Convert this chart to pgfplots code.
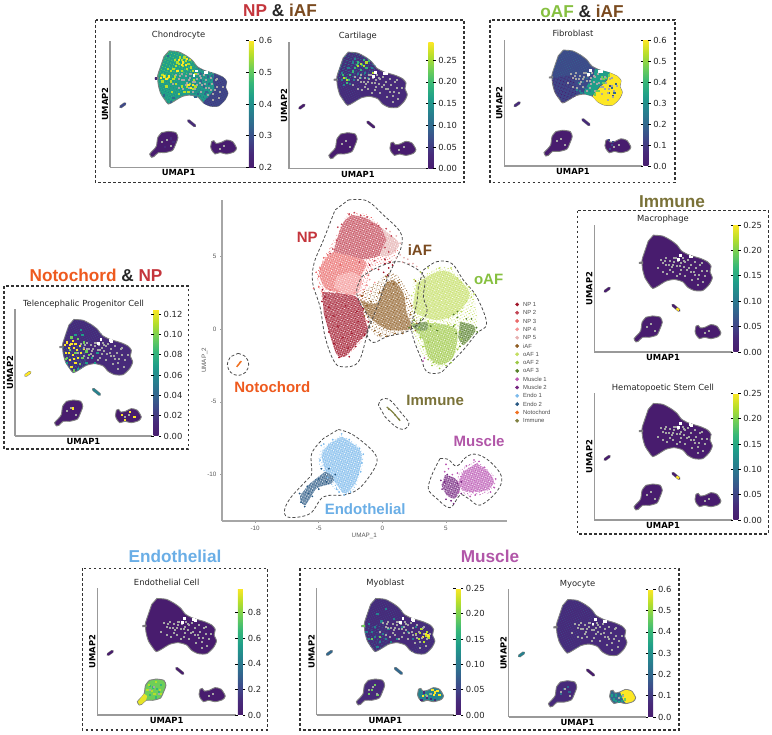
\documentclass[border=0pt]{standalone}
\usepackage{pgfplots}
\pgfplotsset{compat=1.18}
\usepackage{pgfplotstable}
\usepackage{fontspec}
\usetikzlibrary{patterns.meta}
\setmainfont{DejaVu Sans}
\newfontfamily\arial{Liberation Sans}
\definecolor{v0}{HTML}{481C6E}
\definecolor{v1}{HTML}{472A7A}
\definecolor{v2}{HTML}{3E4989}
\definecolor{v3}{HTML}{31688E}
\definecolor{v4}{HTML}{26828E}
\definecolor{v5}{HTML}{1F9E89}
\definecolor{v6}{HTML}{35B779}
\definecolor{v7}{HTML}{6ECE58}
\definecolor{v8}{HTML}{B5DE2B}
\definecolor{v9}{HTML}{FDE725}
\definecolor{tNP}{HTML}{C4353C}
\definecolor{tiAF}{HTML}{7A4A1F}
\definecolor{toAF}{HTML}{86C040}
\definecolor{tNo}{HTML}{EE5A1E}
\definecolor{tIm}{HTML}{7A7238}
\definecolor{tEn}{HTML}{6AAEE6}
\definecolor{tMu}{HTML}{B156A8}
\definecolor{cN1}{HTML}{A01428}
\definecolor{cN2}{HTML}{C24454}
\definecolor{cN3}{HTML}{EA6A6A}
\definecolor{cN4}{HTML}{F49494}
\definecolor{cN5}{HTML}{E6B0B0}
\definecolor{ciA}{HTML}{8E5C22}
\definecolor{cO1}{HTML}{C4DE62}
\definecolor{cO2}{HTML}{9CC844}
\definecolor{cO3}{HTML}{557F28}
\definecolor{cM1}{HTML}{BC58B4}
\definecolor{cM2}{HTML}{74247F}
\definecolor{cE1}{HTML}{7CBAEC}
\definecolor{cE2}{HTML}{285883}
\definecolor{cNo}{HTML}{F07020}
\definecolor{cIm}{HTML}{7F8040}
\pgfplotsset{colormap={vir}{rgb255=(72,28,110) rgb255=(71,42,122) rgb255=(62,73,137) rgb255=(49,104,142) rgb255=(38,130,142) rgb255=(31,158,137) rgb255=(53,183,121) rgb255=(110,206,88) rgb255=(181,222,43) rgb255=(253,231,37)}}
\pgfplotstableread{
x y
43 92
49.8 91.3
55.8 87.9
60.2 84.2
63.6 79.5
69.2 76.3
77.2 73.7
82.5 71
85 67.6
84.2 63.2
85.9 58.4
83.7 53.2
78.9 48.4
72.8 48.4
68 51
64.3 55.3
58.3 57.1
52.2 55.8
46.1 51.8
42.5 50
40 53.2
36.9 58.4
35.2 65
34.7 72.1
36.4 78.2
39.3 87.4
}\mainT
\pgfplotstableread{
x y
42.5 28.4
48 27.4
49.5 23.4
48 18.7
45.6 13.4
40 11.6
35.2 11.6
32 8.4
30.3 7.9
28.9 10.5
31.6 13.7
33.8 16.8
34.8 23.5
37.6 27.4
}\endoT
\pgfplotstableread{
x y
74 20.3
75.7 21
77.2 18.9
80.6 19.5
85 21.6
89.3 20.3
92.2 15
90.3 12.1
85 10.5
80.1 11.6
76.5 10.5
74 13.7
73.3 16.3
}\muscT
\pgfplotstableread{
x y
43 92
49.8 91.3
55.8 87.9
60.2 84.2
63.6 79.5
58 74
50 72
42 71
35 70
36.4 78.2
39.3 87.4
}\topT
\pgfplotstableread{
x y
35 70
42 71
50 72
52 64
52.2 55.8
46.1 51.8
42.5 50
40 53.2
36.9 58.4
35.2 65
}\leftT
\pgfplotstableread{
x y
60.2 84.2
63.6 79.5
69.2 76.3
77 74
76 62
72 56
68 51
64.3 55.3
58.3 57.1
56 66
57 76
}\midT
\pgfplotstableread{
x y
76 74
82.5 71
85 67.6
84.2 63.2
85.9 58.4
83.7 53.2
78.9 48.4
72.8 48.4
68 51
72 56
76 62
75 68
}\rightT
\newcommand\umap[5]{%
\addplot[forget plot,draw=gray,line width=.9pt,fill=#1,smooth,tension=.4] table[x=x,y=y] {\mainT} -- cycle;
\addplot[forget plot,draw=gray,line width=.9pt,fill=#2,smooth,tension=.4] table[x=x,y=y] {\endoT} -- cycle;
\addplot[forget plot,draw=gray,line width=.9pt,fill=#3,smooth,tension=.4] table[x=x,y=y] {\muscT} -- cycle;
\addplot[forget plot,draw=gray,line width=.9pt,fill=#1] coordinates {(32.8,70.6)(35.2,71)(35.2,69.8)(32.8,69.8)} -- cycle;
\addplot[forget plot,gray,line width=3.2pt,line cap=round] coordinates {(7.8,47.8)(10.9,50.2)};
\addplot[forget plot,#4,line width=2.2pt,line cap=round] coordinates {(7.8,47.8)(10.9,50.2)};
\addplot[forget plot,gray,line width=3.2pt,line cap=round] coordinates {(57.2,36.8)(61.7,32.8)};
\addplot[forget plot,#5,line width=2.2pt,line cap=round] coordinates {(57.2,36.8)(61.7,32.8)};
}
\newcommand\region[2]{\addplot[forget plot,draw=none,fill=#1,smooth,tension=.4] table[x=x,y=y] {#2} -- cycle;}
\newcommand\texture[2]{\addplot[forget plot,draw=none,pattern={Dots[distance=2.1pt,radius=.5pt,angle=23]},pattern color=#1,smooth,tension=.4] table[x=x,y=y] {#2} -- cycle;}
\newcommand\textureB[2]{\addplot[forget plot,draw=none,pattern={Dots[distance=3.1pt,radius=.6pt,angle=67]},pattern color=#1,smooth,tension=.4] table[x=x,y=y] {#2} -- cycle;}
\newcommand\spots[2]{\addplot[forget plot,only marks,mark=square*,mark size=.6pt,color=#1] coordinates {#2};}
\newcommand\flecks{%
\addplot[forget plot,only marks,mark=square*,mark size=.5pt,color=gray!70] coordinates {(48,73)(50,70)(52,74)(54,69)(55,72)(56,67)(58,71)(59,74)(60,68)(61,72)(63,70)(64,74)(65,67)(66,71)(68,73)(67,65)(70,69)(72,63)(74,66)(76,61)(78,64)(80,60)(75,58)(71,57)(62,62)(57,63)(53,62)(60,60)(66,60)(77,69)(82,64)(46,66)(50,63)(73,71)(78,70)(41,22)(44,17)(38,20)(83,17)(80,15)(51,72)(57,69)(62,68)(65,72)(69,66)(73,61)(79,55)(75,53)(70,63)(55,65)(52,69)(58,74)(63,65)};
\addplot[forget plot,only marks,mark=square*,mark size=.9pt,color=white] coordinates {(62.6,76.3)(69.4,75.3)(70.4,75.1)(61,73)};
}
\pgfplotsset{
 panel/.style={scale only axis,axis lines=left,axis line style={-,draw=gray!80,line width=1.3pt},xmin=0,xmax=100,ymin=0,ymax=100,xtick=\empty,ytick=\empty,clip=false,
  anchor=south west,colorbar,colormap name=vir,colorbar shift/.style={xshift=1pt},
  xlabel={\fontsize{8.4}{10}\selectfont\bfseries UMAP1},ylabel={\fontsize{8.4}{10}\selectfont\bfseries UMAP2},
  xlabel style={at={(axis description cs:0.5,0)},anchor=center,yshift=-5.5pt},
  ylabel style={at={(axis description cs:0,0.5)},anchor=center,yshift=5pt},
  title style={font=\fontsize{8.4}{10}\selectfont,at={(axis description cs:0.5,1)},anchor=base,yshift=-3pt,color=black!85},
  every colorbar/.append style={width=5pt,ytick align=outside,major tick length=2.5pt,axis line style={draw=none},
   ytick style={draw=black,line width=.6pt},yticklabel style={font=\fontsize{8.4}{10}\selectfont,xshift=-1pt,color=black!85,/pgf/number format/assume math mode=true}},
 },
}
\tikzset{frame/.style={draw=black!80,line width=1.4pt,dash pattern=on 2.6pt off 2.4pt}}
\newcommand\head[3]{\node[font=\arial\fontsize{17.2}{20}\selectfont\bfseries,anchor=center] at (#1pt,-#2pt) {#3};}
\begin{document}
\begin{tikzpicture}[x=1pt,y=1pt]
\path[use as bounding box] (0,0) rectangle (772pt,-735pt);
% frames
\draw[frame] (95.7pt,-20pt) rectangle (464pt,-182.7pt);
\draw[frame] (490pt,-20pt) rectangle (675pt,-182.5pt);
\draw[frame] (4pt,-286pt) rectangle (188.3pt,-449pt);
\draw[frame] (577.7pt,-210.7pt) rectangle (768.3pt,-534pt);
\draw[frame] (82.3pt,-568.3pt) rectangle (267.5pt,-730pt);
\draw[frame] (300pt,-568.3pt) rectangle (679pt,-730pt);
\head{280}{10.5}{\textcolor{tNP}{NP} \textcolor{black!85}{\&} \textcolor{tiAF}{iAF}}
\head{582}{11}{\textcolor{toAF}{oAF} \textcolor{black!85}{\&} \textcolor{tiAF}{iAF}}
\head{96}{275}{\textcolor{tNo}{Notochord} \textcolor{black!85}{\&} \textcolor{tNP}{NP}}
\head{672}{201.5}{\textcolor{tIm}{Immune}}
\head{175}{556}{\textcolor{tEn}{Endothelial}}
\head{490}{556}{\textcolor{tMu}{Muscle}}
% Chondrocyte
\begin{axis}[panel,at={(110pt,-167.3pt)},width=137.3pt,height=126.6pt,title={Chondrocyte},point meta min=0.2,point meta max=0.6,
 colorbar style={ytick={0.2,0.3,0.4,0.5,0.6},yticklabels={0.2,0.3,0.4,0.5,0.6}}]
\umap{v5}{v0}{v0}{v2}{v1}
\texture{v4}{\midT}\textureB{v3}{\midT}
\region{v2}{\rightT}
\texture{v1}{\rightT}
\texture{v6}{\topT}\textureB{v7}{\topT}\texture{v6}{\leftT}\textureB{v4}{\leftT}
\spots{v8}{(50,82)(52,85)(55,84)(57,82)(53,80)(48,80)(46,78)(56,78)(59,79)(44,76)(40,72)(42,71)(38,73)(44,68)(56,64)(58,66)(60,62)(54,60)(50,58)(47,72)(62,74)(45,60)(51,87)(54,87)(58,85)(49,83)(47,85)(60,76)(52,76)(42,78)(38,68)(48,66)(52,64)(57,60)(62,64)(46,70)(41,64)(61,69)}
\spots{v9}{(53,83)(50,85)(55,81)(39,72)(41,70)(57,65)(59,63)(49,76)(56,86)(52,81)(43,72)(37,71)(60,65)}
\spots{v3}{(66,68)(68,64)(70,60)(64,58)(72,66)(69,58)(74,72)(42,88)(46,55)(66,74)(71,72)(62,56)(44,52)(39,57)}
\spots{v1}{(33.5,70.3)(44,23)(40,16)(46,20)}
\flecks
\end{axis}
% Cartilage
\begin{axis}[panel,at={(289pt,-168.7pt)},width=137.7pt,height=126.7pt,title={Cartilage},point meta min=0,point meta max=0.292,
 colorbar style={ytick={0,0.05,0.1,0.15,0.2,0.25},yticklabels={0.00,0.05,0.10,0.15,0.20,0.25}}]
\umap{v1}{v0}{v0}{v0}{v0}
\texture{v3}{\topT}\textureB{v4}{\topT}
\texture{v2}{\leftT}
\spots{v6}{(50,84)(53,82)(56,80)(48,80)(46,77)(41,72)(43,70)(39,74)(58,85)(52,78)(44,74)(54,86)(49,82)(42,68)}
\spots{v8}{(52,83)(54,81)(56,84)(42,70)(40,72)(61,76)(50,81)}
\spots{v4}{(46,84)(48,87)(55,76)(50,75)(38,76)(44,67)(40,66)(60,80)(47,70)(43,80)(38,70)(52,72)(57,72)}
\flecks
\end{axis}
% Fibroblast
\begin{axis}[panel,at={(504.3pt,-166pt)},width=137.3pt,height=126pt,title={Fibroblast},point meta min=0,point meta max=0.6,
 colorbar style={ytick={0,0.1,0.2,0.3,0.4,0.5,0.6},yticklabels={0.0,0.1,0.2,0.3,0.4,0.5,0.6}}]
\umap{v2}{v0}{v0}{v1}{v1}
\texture{v1}{\leftT}\textureB{v0}{\leftT}
\texture{v3}{\topT}
\addplot[forget plot,draw=none,fill=v5,smooth,tension=.4] coordinates {(66,77)(76.9,74)(75,69)(69.2,63)(64,56)(58,58)(61,65)(65,71)} -- cycle;
\addplot[forget plot,draw=none,fill=v9,smooth,tension=.3] coordinates {(76.9,74)(82.5,71)(85,67.6)(84.2,63)(85.9,58.4)(83.5,53)(79,48.4)(72.8,48.4)(68,51)(64.5,55.5)(69.2,62)(75,68)} -- cycle;
\spots{v7}{(72,66)(70,63)(74,70)(66,57)(69,60)(76,72)(72,69)(67,60)(71,71)}
\spots{v3}{(78,62)(80,58)(76,58)(81,65)(60,62)(62,66)(58,62)(57,67)(60,70)}
\spots{v2}{(77,64)(79,56)}
\spots{v4}{(55,60)(58,70)(62,60)(54,66)(50,70)(60,74)(56,58)(53,61)(62,73)}
\spots{v2}{(76,21)(78,17)(77,14)(79,19)}
\flecks
\end{axis}
% Telencephalic
\begin{axis}[panel,at={(15pt,-436pt)},width=137pt,height=126.7pt,title={Telencephalic Progenitor Cell},point meta min=0,point meta max=0.1248,
 colorbar style={ytick={0,0.02,0.04,0.06,0.08,0.1,0.12},yticklabels={0.00,0.02,0.04,0.06,0.08,0.10,0.12}}]
\umap{v1}{v0}{v0}{v9}{v4}
\texture{v3}{\leftT}\textureB{v4}{\leftT}
\texture{v2}{\topT}
\spots{v9}{(38,74)(40,72)(42,75)(44,73)(39,70)(43,70)(47,71)(50,69)(48,66)(42,64)(40,60)(41,55)(44,58)(37,66)(46,62)(36,72)(41,73)(45,68)(39,66)(43,61)}
\spots{v7}{(41,78)(46,77)(38,62)(44,66)(50,74)(52,67)(47,57)(43,52)(54,64)(40,68)(37,61)(49,62)}
\spots{v5}{(49,80)(55,72)(56,62)(48,84)(38,58)(52,58)(60,66)(44,80)(58,58)(46,53)}
\spots{v9}{(78,17)(84,19)(80,13)(87,15)(42,22)}
\flecks
\end{axis}
% Macrophage
\begin{axis}[panel,at={(594.3pt,-352pt)},width=137.4pt,height=127pt,title={Macrophage},point meta min=0,point meta max=0.25,
 colorbar style={ytick={0,0.05,0.1,0.15,0.2,0.25},yticklabels={0.00,0.05,0.10,0.15,0.20,0.25}}]
\umap{v0}{v0}{v0}{v0}{v0}
\addplot[forget plot,v9,line width=2.2pt] coordinates {(59.8,34.4)(61.7,32.8)};
\flecks
\end{axis}
% Hematopoetic
\begin{axis}[panel,at={(594.3pt,-520pt)},width=137.4pt,height=126.7pt,title={Hematopoetic Stem Cell},point meta min=0,point meta max=0.25,
 colorbar style={ytick={0,0.05,0.1,0.15,0.2,0.25},yticklabels={0.00,0.05,0.10,0.15,0.20,0.25}}]
\umap{v0}{v0}{v0}{v0}{v0}
\addplot[forget plot,v9,line width=2.2pt] coordinates {(59.8,34.4)(61.7,32.8)};
\flecks
\end{axis}
% Endothelial
\begin{axis}[panel,at={(97.2pt,-715pt)},width=138.9pt,height=126.7pt,title={Endothelial Cell},point meta min=0,point meta max=0.99,
 colorbar style={ytick={0,0.2,0.4,0.6,0.8},yticklabels={0.0,0.2,0.4,0.6,0.8}}]
\umap{v0}{v7}{v0}{v0}{v0}
\addplot[forget plot,draw=none,fill=v9!70!v8] coordinates {(35.2,11.8)(32,8.6)(30.3,8.2)(29.2,10.5)(31.6,13.7)(33.8,16.8)(36,15)} -- cycle;
\spots{v6}{(40,22)(44,18)(38,16)(42,14)(46,24)(38,23)(43,21)}
\spots{v8}{(42,26)(37,24)(45,20)(39,19)(41,17)(46,17)(36,20)}
\flecks
\end{axis}
% Myoblast
\begin{axis}[panel,at={(316.5pt,-715pt)},width=137.8pt,height=126.7pt,title={Myoblast},point meta min=0,point meta max=0.25,
 colorbar style={ytick={0,0.05,0.1,0.15,0.2,0.25},yticklabels={0.00,0.05,0.10,0.15,0.20,0.25}}]
\umap{v1}{v1}{v4}{v3}{v3}
\texture{v2}{\leftT}\textureB{v3}{\leftT}
\texture{v2}{\topT}
\texture{v2}{\rightT}
\spots{v4}{(40,66)(42,62)(38,60)(46,58)(48,64)(44,54)(50,60)(54,58)(36,66)(52,68)(58,60)(66,66)(72,70)(70,60)(42,70)(47,74)(38,72)(44,80)(50,84)(56,76)(62,70)}
\spots{v8}{(79,63)(80,66)(76,68)(78,58)(72,64)(74,60)(81,61)(75,65)}
\spots{v9}{(79.5,64)(80,60)(77,62)(81,63)}
\spots{v7}{(33.5,70.3)(34.5,70.2)(40,60)(46,62)}
\spots{v9}{(84,20)(87,19)(89,16)(85,16)(77,15)(86,18)(88,19)}
\spots{v1}{(80,14)(83,13)(76,12)(86,12)(78,18)}
\spots{v7}{(40,20)(42,24)(38,17)(44,16)(82,17)(79,16)}
\flecks
\end{axis}
% Myocyte
\begin{axis}[panel,at={(508.6pt,-717pt)},width=137.8pt,height=127.7pt,title={Myocyte},point meta min=0,point meta max=0.6,
 colorbar style={ytick={0,0.1,0.2,0.3,0.4,0.5,0.6},yticklabels={0.0,0.1,0.2,0.3,0.4,0.5,0.6}}]
\umap{v1}{v1}{v3}{v4}{v0}
\texture{v2}{\topT}
\texture{v2}{\leftT}
\addplot[forget plot,draw=none,fill=v9,smooth,tension=.4] coordinates {(81,19.3)(85,21.2)(89.2,20)(91.8,15)(90,12.3)(85,11)(83,14)} -- cycle;
\spots{v5}{(76,14)(78,13)(75,17)(80,12)(78,17)(81,16)(82,13)}
\spots{v7}{(84,14)(83,17)}
\spots{v3}{(40,22)(43,24)(38,18)(44,20)}
\flecks
\end{axis}
% Main UMAP
\newcommand\cluster[2]{%
\addplot[forget plot,draw=none,fill=#1!62,smooth,tension=.5] coordinates {#2} -- cycle;
\addplot[forget plot,draw=none,pattern={Dots[distance=1.9pt,radius=.5pt,angle=17]},pattern color=#1,smooth,tension=.5] coordinates {#2} -- cycle;
\addplot[forget plot,draw=none,pattern={Dots[distance=2.7pt,radius=.5pt,angle=61]},pattern color=white,smooth,tension=.5] coordinates {#2} -- cycle;}
\newcommand\haze[2]{%
\addplot[forget plot,draw=none,pattern={Dots[distance=2.6pt,radius=.5pt,angle=31]},pattern color=#1,smooth,tension=.5] coordinates {#2} -- cycle;
\addplot[forget plot,draw=none,pattern={Dots[distance=3.7pt,radius=.5pt,angle=73]},pattern color=#1,smooth,tension=.5] coordinates {#2} -- cycle;}
\newcommand\dashedregion[1]{\addplot[forget plot,black!70,line width=.8pt,dash pattern=on 3pt off 2pt,smooth,tension=.6] coordinates {#1} -- cycle;}
\newcommand\cells[3]{\addplot[only marks,mark=*,mark size=.65pt,color=#1] coordinates {#2}; \addlegendentry{#3}}
\begin{axis}[at={(222pt,-520.7pt)},anchor=south west,scale only axis,width=284.7pt,height=320.7pt,
 xmin=-12.6,xmax=9.77,ymin=-13.17,ymax=8.87,axis lines=left,clip=false,
 axis line style={-,draw=gray!70,line width=1.7pt},
 xtick={-10,-5,0,5},ytick={-10,-5,0,5},
 tick style={draw=gray!75,line width=.5pt},major tick length=2pt,tick align=outside,
 tick label style={font=\arial\fontsize{6.3}{7}\selectfont,color=black!65,/pgf/number format/assume math mode=true},
 xlabel={UMAP\_1},ylabel={UMAP\_2},
 xlabel style={font=\arial\fontsize{6.3}{7}\selectfont,color=black!65,at={(axis description cs:0.5,0)},anchor=center,yshift=-15pt},
 ylabel style={font=\arial\fontsize{6.3}{7}\selectfont,color=black!65,at={(axis description cs:0,0.5)},anchor=center,xshift=0pt,yshift=17.5pt},
 legend cell align=left,
 legend image code/.code={\draw[draw=none,fill=none,opacity=0] (0pt,0pt) -- (8pt,0pt);\draw[#1,mark size=1.7pt] plot coordinates {(2pt,0pt)};},
 legend style={at={(1.029,0.688)},anchor=north west,draw=none,fill=none,inner sep=0pt,font=\arial\fontsize{5.9}{7}\selectfont,text=black!70,
  nodes={inner sep=0pt,minimum height=8.31pt,text depth=0pt},row sep=0pt},
]
\haze{cN3}{(-2.7,8)(-1,7.8)(.5,6.5)(1.3,5.7)(.6,4.6)(-.8,4.2)(-1.3,2.4)(-1.1,-.1)(-2.9,-1.9)(-3.7,-1.5)(-4.6,1.5)(-5,3)(-5.1,4)(-4,5.8)}
\haze{ciA}{(-1.9,2.4)(-.5,3.2)(.8,3.9)(1.9,2.8)(2.7,.4)(.6,-.5)(-.6,-.4)(-1.4,1)}
\haze{cO1}{(2.4,3.2)(4.3,4.2)(5.5,4.1)(7.1,2.4)(7.4,0)(5.9,-1.5)(4.6,-2.6)(3.4,-2)(2.3,0)(2.4,1.8)}
\haze{cE1}{(-3.2,-7.3)(-1.9,-8)(-1.5,-9)(-2,-10.7)(-2.9,-11.4)(-4.2,-10.6)(-5,-9.2)(-4.8,-8.2)}
\haze{cM1}{(7.2,-9)(8.5,-9.8)(8.9,-10.6)(8.3,-11.3)(6.6,-11.4)(5.8,-10.7)(6.2,-9.6)}
\cluster{cN2}{(-2.41,7.84)(-1.23,7.61)(-.05,6.92)(.6,6.12)(.08,5.2)(-.97,4.86)(-2.02,4.74)(-3.06,4.63)(-3.85,5.09)(-3.32,6.8)(-2.93,7.49)}
\cluster{cN3}{(-3.85,5.3)(-2.02,4.9)(-1.23,4.5)(-1.88,3.37)(-2.15,2.45)(-3.06,2.48)(-4.5,2.82)(-4.96,3.94)(-4.5,4.83)}
\cluster{cN4}{(-3.6,3.6)(-2.4,3.9)(-1.6,3.4)(-2.05,2.35)(-3.06,2.48)(-3.8,2.9)}
\cluster{cN1}{(-4.73,2.55)(-3.06,2.42)(-1.88,2.08)(-1.26,.39)(-1.13,-.18)(-2.02,-.99)(-2.93,-1.89)(-3.56,-1.77)(-4.08,-.53)(-4.6,1.08)}
\cluster{cN5}{(-.05,6.92)(1.13,6.12)(1.26,5.66)(.6,5.09)(-.18,5.09)(.34,6.12)}
\cluster{ciA}{(-1.75,1.99)(-.45,1.76)(.08,2.91)(.86,3.37)(1.65,2.45)(1.91,1.08)(2.3,.05)(.6,-.07)(-.45,.39)(-1.23,1.08)}
\cluster{cO1}{(2.7,3.14)(4.27,3.94)(5.45,3.83)(6.88,2.45)(5.84,1.08)(4.27,.62)(2.7,1.08)(2.43,1.76)}
\cluster{cO2}{(2.17,.39)(4.27,.39)(5.84,-.07)(5.58,-1.9)(4.53,-2.47)(3.61,-1.9)(3.22,-.76)}
\cluster{cO3}{(2.3,.27)(3.48,.5)(3.48,-.07)(2.7,-.07)}
\cluster{cO3}{(6.1,.5)(7.15,.27)(7.28,-.18)(6.36,-1.1)(5.97,-.53)}
\cluster{cE1}{(-3.19,-7.4)(-2.02,-8.09)(-1.62,-8.77)(-2.02,-10.38)(-2.93,-11.29)(-3.85,-10.38)(-4.5,-9.69)(-4.76,-8.55)(-4.11,-7.86)}
\cluster{cE2}{(-4.5,-9.8)(-3.85,-10.15)(-3.98,-10.61)(-5.16,-10.95)(-6.07,-12.1)(-6.47,-11.52)(-5.68,-10.61)}
\cluster{cM1}{(7.41,-9.23)(8.32,-9.8)(8.77,-10.49)(8.19,-11.07)(6.62,-11.18)(5.97,-10.61)(6.36,-9.8)}
\cluster{cM2}{(4.92,-10.03)(5.71,-10.26)(6.1,-10.95)(5.71,-11.64)(5.05,-11.41)(4.66,-10.72)}
\addplot[forget plot,cNo,line width=1.4pt] coordinates {(-11.45,-2.6)(-11.08,-2.2)};
\addplot[forget plot,cIm,line width=1.2pt,smooth] coordinates {(.34,-5.35)(.8,-5.7)(1.1,-6)(1.4,-6.3)};
\cells{cN1}{(-4.5,2.2)(-4.2,1.5)(-3.8,.9)(-3.5,.2)(-3.1,-.6)(-2.7,-1.3)(-2.4,-.3)(-1.9,.5)(-2,1.2)(-2.9,1.6)(.2,4.5)(.5,4.2)(.8,4.4)(.1,3.9)(-.3,4.1)(.4,3.7)(.6,4.6)(-4.7,2.7)(-4.75,1.9)(-4.4,.8)(-4.2,-.2)(-3.8,-1)(-3.4,-1.95)(-2.6,-1.9)(-2.1,-1.2)(-1.4,-.4)(-1.1,.5)(-1.5,1.4)(-1,4.4)(.2,4.8)}{NP 1}
\cells{cN2}{(-3.2,7.2)(-2.6,7.9)(-1.7,7.8)(-.8,7.2)(-.3,7.1)(-3.6,6.1)(-3.9,5.5)(.2,5.6)(-.6,4.7)(-3.5,7)(-2.2,8)(-1.2,7.7)(.3,6.9)(.7,6.4)(-4.1,5.2)(.5,5.3)(-1.8,4.6)}{NP 2}
\cells{cN3}{(-5,3.6)(-4.9,4.2)(-4.6,4.9)(-4.1,2.7)(-5.4,2.8)(-3.3,4.4)(-1.1,3.7)(-5.2,3.9)(-5,2.9)(-4.3,5.1)(-.8,4.1)(-4.7,2.5)}{NP 3}
\cells{cN4}{(-2.2,2.5)(-1.5,2.7)(-1.2,3)(-2.8,2.4)(-1,3.4)(-.9,2.6)(-1.7,2.3)(-.6,3.2)(-3.3,2.3)}{NP 4}
\cells{cN5}{(1.4,5.1)(1.7,4.9)(2,4.8)(2.4,4.5)(2.7,4.3)(1.1,4.9)(1,5.4)(1.4,5.9)(1.1,6.4)(.6,6.7)(1.6,4.6)(2.1,4.5)}{NP 5}
\cells{ciA}{(.4,3.2)(.9,3.1)(-.2,2.5)(1.9,2.1)(2.2,1)(2.7,.4)(.3,-.5)(1,-.3)(-.6,-.1)(-1.2,1.6)(2.6,3.3)(-1.6,2.3)(-1.4,.9)(.3,3.6)(1.3,3.2)(2.3,1.6)(2.6,-.1)(1.6,-.3)(-.2,-.4)(-.9,1.9)}{iAF}
\cells{cO1}{(3,3.9)(3.6,4.2)(4.5,4.2)(5.4,4.2)(6.2,3.2)(6.8,2.9)(7,2.2)(6.2,1.2)(5.2,.8)(3,.7)(2.8,2.5)(4.2,.1)(5.2,.3)(2.3,2.3)(2.5,3.4)(5.9,3.5)(7.2,2.4)(6.6,1.9)(3.6,.5)}{oAF 1}
\cells{cO2}{(2.9,.1)(3.2,-1.2)(4,-2.3)(5,-2.5)(5.9,-1.4)(6.2,-.7)(5.7,.3)(3.6,-2.1)(4.5,-2.7)(5.4,-2.3)(3,-.6)(3.6,-.9)(6.1,-.2)(3.9,-2.5)}{oAF 2}
\cells{cO3}{(2.5,.6)(3,.6)(3.8,.2)(4.3,-.1)(5.6,1)(5.9,.8)(5.6,.2)(7.4,.1)(7,.7)(6.6,.7)(6.1,-1.2)(2.1,.1)(5.8,-.3)(5.9,1.2)(7.45,-.2)}{oAF 3}
\cells{cM1}{(5,-9.3)(5.2,-9.6)(4.9,-9.8)(7.2,-9)(7.6,-9.1)(6.6,-9.4)(8.8,-10.9)(7.3,-11.4)(8.5,-11.2)(5.9,-9.9)(3.3,-2)(3.2,-2.2)(5.5,-10)(6,-11.2)(6.9,-11.5)(8,-9.5)(8.9,-10.3)}{Muscle 1}
\cells{cM2}{(4.7,-11)(5,-11.7)(5.4,-11.8)(5.9,-10.6)(5.1,-10)(6.2,-11.3)(4.9,-10.5)(4.6,-10.4)(5.6,-12)(6.2,-10.5)}{Muscle 2}
\cells{cE1}{(-3.2,-7.2)(-2.6,-7.6)(-1.8,-8.2)(-1.6,-9.2)(-1.9,-10)(-2.5,-11.2)(-3,-11.4)(-4.8,-8)(-4.9,-9)(-4.3,-10.2)(-3.6,-11)(-4.6,-7.9)(-1.5,-8.6)(-1.7,-9.8)(-3.4,-11.2)(-3.9,-7.6)}{Endo 1}
\cells{cE2}{(-6.4,-11.9)(-6.1,-12.2)(-5.8,-11.3)(-5,-10.3)(-4.4,-10.5)(-3.7,-10)(-4.8,-9.6)(-5.5,-11.5)(-6.5,-11.3)(-5.9,-10.8)(-5,-11)(-4.2,-9.6)}{Endo 2}
\cells{cNo}{(-11.3,-2.45)(-11.2,-2.3)}{Notochord}
\cells{cIm}{(.5,-5.5)(1,-5.9)(1.3,-6.2)}{Immune}
\dashedregion{(-2.67,8.87)(-1.23,8.82)(.08,7.84)(1.39,6.69)(1.52,5.77)(.99,4.63)(.34,3.37)(-.31,1.76)(-1.1,-.07)(-1.88,-2.25)(-3.19,-2.59)(-3.85,-2.13)(-4.5,-.53)(-4.9,1.53)(-5.47,3.14)(-5.37,4.51)(-4.63,6.12)(-3.72,8.18)}
\dashedregion{(-1.02,3.94)(.08,4.4)(1.39,4.63)(2.83,4.05)(3.35,3.37)(3.22,2.22)(3.48,1.08)(2.17,-.07)(.34,-.53)(-.71,-.92)(-1.23,-.3)(-.97,.62)(-1.75,1.76)(-2.02,2.68)(-1.62,3.6)}
\dashedregion{(3.22,4.05)(4.27,4.63)(5.45,4.51)(6.36,3.37)(7.41,2.22)(8.19,.39)(7.41,-.3)(6.36,-1.44)(5.31,-2.36)(4.53,-3)(3.48,-2.93)(3.09,-2.13)(2.3,-.07)(2.7,1.76)(2.83,2.91)}
\dashedregion{(-11.34,-1.67)(-10.75,-1.9)(-10.5,-2.43)(-10.75,-2.97)(-11.34,-3.19)(-11.93,-2.97)(-12.18,-2.43)(-11.93,-1.9)}
\dashedregion{(-.31,-5.22)(-.05,-4.83)(.6,-4.88)(1.52,-5.8)(2.09,-6.48)(1.65,-6.9)(.99,-6.67)(.21,-6.03)}
\dashedregion{(-3.46,-6.9)(-2.28,-7.28)(-.71,-8.43)(-.45,-9.23)(-1.23,-10.38)(-2.02,-11.07)(-3.06,-11.41)(-4.63,-11.53)(-5.68,-12.68)(-7.25,-12.95)(-7.7,-12.56)(-7.25,-11.64)(-5.94,-10.38)(-5.55,-9.92)(-5.55,-8.55)(-4.63,-7.52)}
\dashedregion{(4.53,-8.89)(5.18,-8.96)(5.84,-9.42)(6.62,-8.77)(7.41,-8.61)(8.46,-9.11)(9.37,-10.15)(8.98,-11.18)(7.67,-12.1)(6.75,-11.64)(6.1,-11.41)(5.31,-12.28)(4.27,-11.64)(3.61,-10.95)(4,-9.8)}
\node[font=\arial\fontsize{15}{17}\selectfont\bfseries,color=tNP] at (axis cs:-5.9,6.3) {NP};
\node[font=\arial\fontsize{15}{17}\selectfont\bfseries,color=tiAF] at (axis cs:2.95,5.4) {iAF};
\node[font=\arial\fontsize{15}{17}\selectfont\bfseries,color=toAF] at (axis cs:8.35,3.4) {oAF};
\node[font=\arial\fontsize{15}{17}\selectfont\bfseries,color=tNo] at (axis cs:-8.65,-4) {Notochord};
\node[font=\arial\fontsize{15}{17}\selectfont\bfseries,color=tIm] at (axis cs:4.15,-4.9) {Immune};
\node[font=\arial\fontsize{15}{17}\selectfont\bfseries,color=tEn] at (axis cs:-1.35,-12.35) {Endothelial};
\node[font=\arial\fontsize{15}{17}\selectfont\bfseries,color=tMu] at (axis cs:7.6,-7.7) {Muscle};
\end{axis}
\end{tikzpicture}
\end{document}
